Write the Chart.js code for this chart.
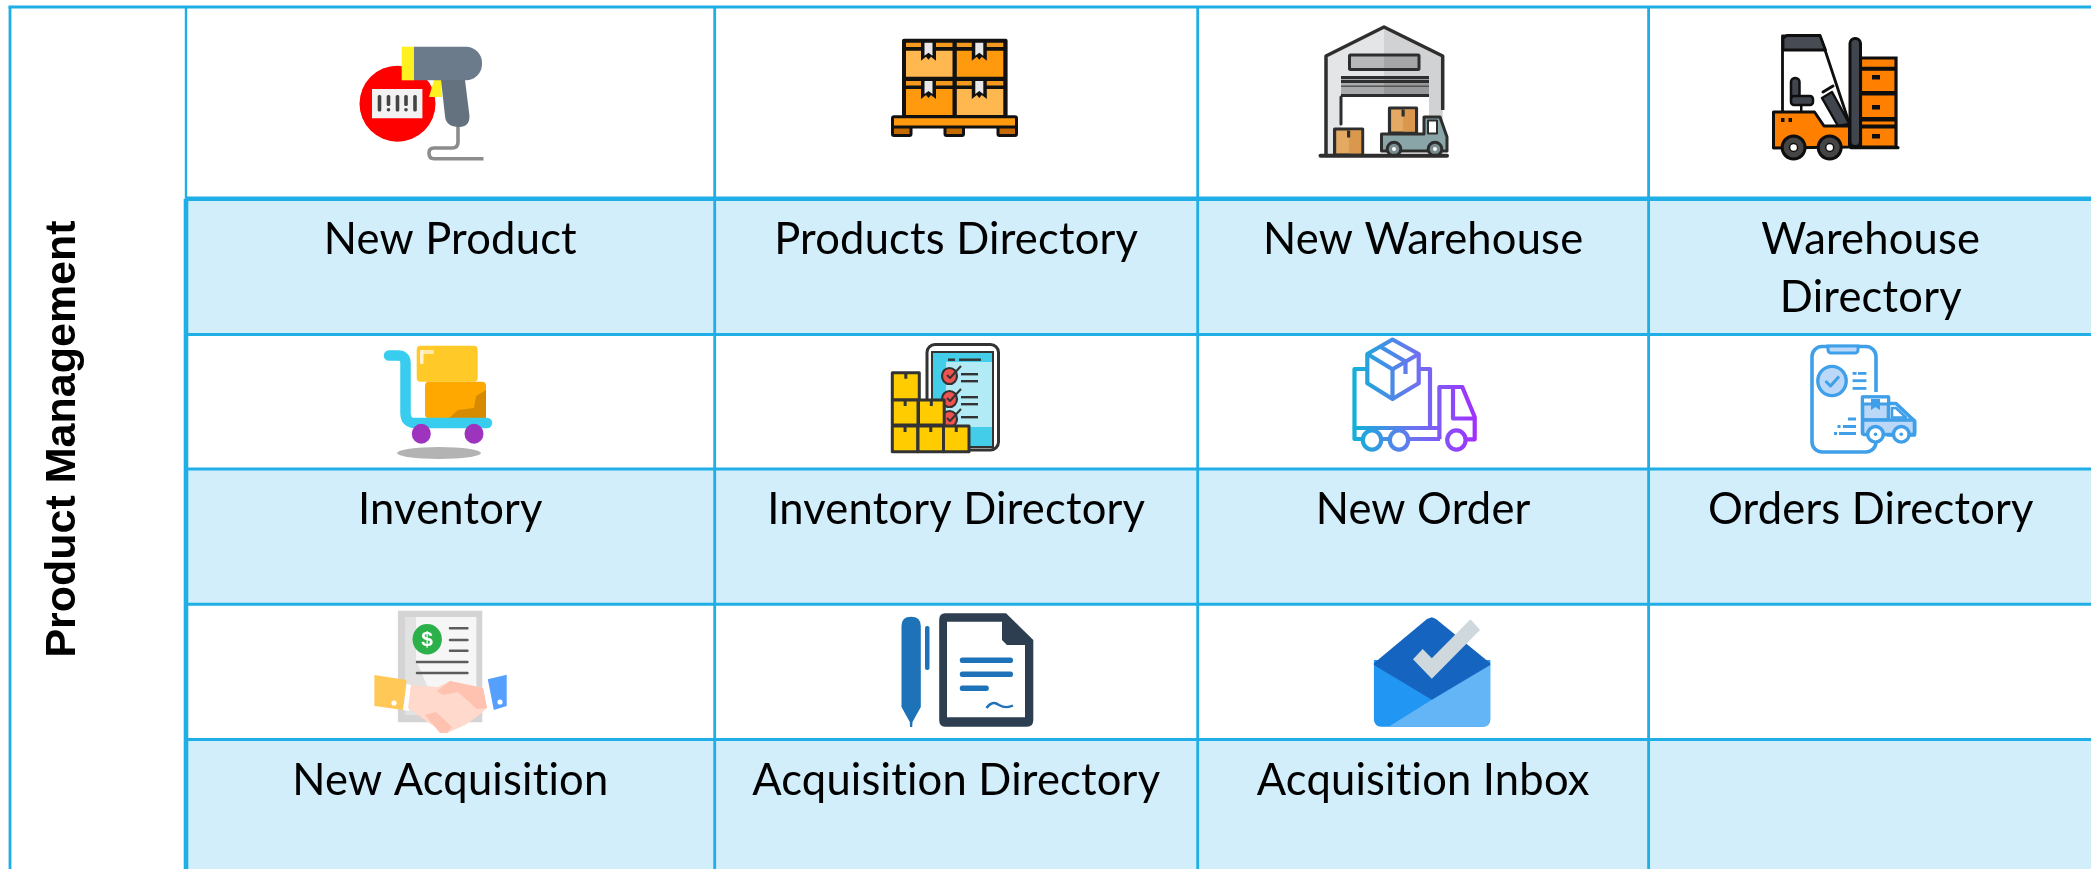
<!DOCTYPE html>
<html>
<head>
<meta charset="utf-8">
<title>Product Management</title>
<script src="https://cdn.jsdelivr.net/npm/chart.js@4"></script>
<style>
  html,body{margin:0;padding:0;background:#fff;overflow:hidden}
  canvas{display:block}
</style>
</head>
<body>
<canvas id="menuChart" width="2091" height="869"></canvas>
<script>
// table data
const groupTitle = 'Product Management';
const columnEdges = [10, 186, 714.7, 1197.7, 1648.6, 2093];
const rowEdges = [7, 198.7, 334.4, 468.9, 604.3, 739.4, 875];
const labelsRow1 = ['New Product', 'Products Directory', 'New Warehouse', 'Warehouse\nDirectory'];
const labelsRow2 = ['Inventory', 'Inventory Directory', 'New Order', 'Orders Directory'];
const labelsRow3 = ['New Acquisition', 'Acquisition Directory', 'Acquisition Inbox', ''];

const LINE = '#1FAEE6';
const BAND = '#D1EEFA';

// canvas helpers for the little pictures
function box(c, x, y, w, h, fill, stroke, lw, r){
  c.beginPath();
  c.roundRect(x, y, w, h, r || 0);
  if(fill){ c.fillStyle = fill; c.fill(); }
  if(stroke){ c.strokeStyle = stroke; c.lineWidth = lw || 1; c.stroke(); }
}
function poly(c, pts, fill, stroke, lw, open){
  c.beginPath();
  pts.forEach((p, i) => i ? c.lineTo(p[0], p[1]) : c.moveTo(p[0], p[1]));
  if(!open) c.closePath();
  if(fill){ c.fillStyle = fill; c.fill(); }
  if(stroke){ c.strokeStyle = stroke; c.lineWidth = lw || 1; c.lineJoin = 'round'; c.stroke(); }
}
function ell(c, x, y, rx, ry, fill, stroke, lw){
  c.beginPath();
  c.ellipse(x, y, rx, ry, 0, 0, Math.PI * 2);
  if(fill){ c.fillStyle = fill; c.fill(); }
  if(stroke){ c.strokeStyle = stroke; c.lineWidth = lw || 1; c.stroke(); }
}

function drawScanner(c){
  ell(c, 397.5, 103.7, 38, 38, '#FF0000');
  box(c, 372, 89, 50.4, 29.3, '#F2F2F2');
  [379.5, 397.5, 415].forEach(x => box(c, x - 1.8, 95, 3.6, 16.5, '#444', null, 0, 1.5));
  [388.5, 406].forEach(x => { box(c, x - 1.8, 95, 3.6, 11, '#444', null, 0, 1.5); ell(c, x, 109.8, 1.8, 1.8, '#444'); });
  poly(c, [[434, 80], [441, 80], [442, 97], [429, 97]], '#FFF01F');
  box(c, 401.7, 46.7, 12.3, 33.6, '#FFF01F');
  c.beginPath();
  c.moveTo(458, 126); c.lineTo(458, 142); c.quadraticCurveTo(458, 148, 452, 148);
  c.lineTo(434, 148); c.quadraticCurveTo(429, 148, 429, 153); c.quadraticCurveTo(429, 158.7, 434, 158.7); c.lineTo(483.5, 158.7);
  c.strokeStyle = '#8C8C8C'; c.lineWidth = 3.6; c.stroke();
  c.beginPath();
  c.moveTo(441, 80); c.lineTo(465, 80); c.lineTo(469.5, 116); c.quadraticCurveTo(469.5, 127, 459, 127);
  c.quadraticCurveTo(446, 127, 445, 116); c.closePath();
  c.fillStyle = '#64727F'; c.fill();
  box(c, 414, 46.7, 68, 33.6, '#6C7B8B', null, 0, [0, 16, 16, 0]);
}

function crate(c, x, y, color){
  box(c, x, y + 8, 46.5, 26, color);
  box(c, x, y, 46.5, 4.4, '#F39A1E');
  poly(c, [[x + 15, y - 2], [x + 30, y - 2], [x + 30, y + 18], [x + 25, y + 14], [x + 22.5, y + 17], [x + 20, y + 14], [x + 15, y + 18]], '#111');
  poly(c, [[x + 18.5, y], [x + 26.5, y], [x + 26.5, y + 13], [x + 22.5, y + 10], [x + 18.5, y + 13]], '#E8E8E8');
}
function drawPallet(c){
  box(c, 902, 38.7, 105.6, 78, '#111', null, 0, 2);
  crate(c, 906, 42.7, '#FFB74F');
  crate(c, 956.8, 42.7, '#FF9A0F');
  crate(c, 906, 81, '#FF9A0F');
  crate(c, 956.8, 81, '#FFB74F');
  [[892.5, 126], [945, 126], [998, 126]].forEach(p => {
    box(c, p[0], p[1], 18.5, 9.5, '#C46A00', '#111', 3, 1.5);
  });
  box(c, 892.5, 116.7, 124, 10.3, '#FF9A0F', '#111', 3, 1.5);
}

function drawWarehouse(c){
  const ink = '#2E2E2E';
  poly(c, [[1325, 56], [1384, 27], [1384, 155], [1325, 155]], '#E4E5E7');
  poly(c, [[1384, 27], [1442.7, 56], [1442.7, 155], [1384, 155]], '#D1D2D4');
  poly(c, [[1326, 155], [1326, 56], [1384, 27], [1442.7, 56], [1442.7, 110]], null, ink, 3.5, true);
  box(c, 1349.5, 55, 34.5, 14.5, '#B6B8BA');
  box(c, 1384, 55, 35, 14.5, '#A4A6A8');
  box(c, 1349.5, 55, 69.5, 14.5, null, ink, 3, 1);
  box(c, 1341, 76, 88, 80, '#fff');
  box(c, 1341, 76, 43, 20, '#A9ABAD');
  box(c, 1384, 76, 45, 20, '#98999B');
  box(c, 1341, 80, 88, 3, ink);
  box(c, 1341, 85.5, 88, 1.5, '#555');
  box(c, 1341, 76, 88, 3, ink);
  box(c, 1341, 94, 88, 3, ink);
  poly(c, [[1341, 97], [1341, 124]], null, ink, 3);
  // truck
  box(c, 1389.5, 108, 27, 25, '#E4A963', ink, 3.2);
  box(c, 1403, 109.5, 12, 22, '#D9984E');
  box(c, 1401.5, 109.5, 3.2, 7, ink);
  poly(c, [[1381.5, 134], [1424, 134], [1424, 117], [1440, 117], [1447, 137], [1447, 151], [1381.5, 151]], '#8AA5A8', ink, 3);
  box(c, 1428, 120.5, 9, 13, '#fff', ink, 2);
  [1394, 1435].forEach(x => { ell(c, x, 149, 6.8, 6.8, '#7A8F92', ink, 3); ell(c, x, 149, 2, 2, '#fff'); });
  // floor box
  box(c, 1334.6, 129, 28, 26, '#E4A963', ink, 3.2);
  box(c, 1349, 130.5, 12.3, 23, '#D9984E');
  box(c, 1347, 130.5, 3.2, 7, ink);
  box(c, 1318.5, 153.8, 130.5, 4, ink, null, 0, 2);
}

function drawForklift(c){
  const ink = '#0E0E0E', body = '#FF8000';
  box(c, 1860.5, 58, 35.5, 89, body, ink, 3.2);
  box(c, 1860.5, 66.7, 35.5, 4, ink);
  box(c, 1860.5, 91, 35.5, 4.5, ink);
  box(c, 1860.5, 117, 35.5, 4.5, ink);
  box(c, 1860.5, 124.5, 35.5, 4, ink);
  [75, 105, 134].forEach(y => box(c, 1872, y, 8, 4.5, ink));
  box(c, 1850, 38.5, 10.5, 108, '#41464E', ink, 3, 5);
  poly(c, [[1782.5, 112], [1782.5, 36], [1820, 36], [1825, 50], [1849.5, 124]], null, ink, 2.8, true);
  poly(c, [[1783, 50], [1783, 38], [1787, 35.5], [1820, 35.5], [1825.5, 50]], '#474C54', ink, 2.8);
  box(c, 1791, 78, 8.5, 24, '#41464E', ink, 2.5, 4);
  box(c, 1791, 96, 22, 9, '#41464E', ink, 2.5, 3);
  box(c, 1800, 105, 2.5, 7, ink);
  poly(c, [[1822, 98], [1832, 92], [1849.5, 124], [1838, 126]], '#41464E', ink, 2.5);
  poly(c, [[1823, 92], [1833, 86]], null, ink, 3);
  poly(c, [[1773.5, 112], [1814.5, 112], [1824, 126], [1849.5, 126], [1849.5, 147], [1773.5, 148]], body, ink, 3);
  box(c, 1781, 118, 3.5, 4, ink);
  box(c, 1788.5, 118, 3.5, 4, ink);
  box(c, 1849.5, 146, 50, 3.2, ink, null, 0, 1.5);
  [1793.6, 1829.7].forEach(x => {
    ell(c, x, 147.5, 11.5, 11.5, '#454545', ink, 3);
    ell(c, x, 147.5, 4, 4, '#fff', ink, 1.5);
  });
}

function drawTrolley(c){
  ell(c, 439, 453, 42, 6, '#B3B3B3');
  box(c, 416.7, 345.7, 61, 36, '#FFCA28', null, 0, 4);
  box(c, 420, 350, 14, 4, '#FFE9A8', null, 0, 1);
  box(c, 420, 350, 3.5, 14, '#FFF3CC', null, 0, 1);
  box(c, 425, 381.7, 61, 36.5, '#FFA800', null, 0, 4);
  poly(c, [[449, 418], [486, 418], [486, 390], [476, 396], [474, 408], [458, 410]], '#D68A00');
  c.beginPath();
  c.moveTo(389, 355.5); c.lineTo(398, 355.5); c.quadraticCurveTo(405.5, 355.5, 405.5, 363);
  c.lineTo(405.5, 413); c.quadraticCurveTo(405.5, 423, 415, 423); c.lineTo(487, 423);
  c.strokeStyle = '#38CDEE'; c.lineWidth = 10.5; c.lineCap = 'round'; c.stroke(); c.lineCap = 'butt';
  ell(c, 421.3, 433.7, 9.5, 10, '#9E34BE');
  ell(c, 474, 433.7, 9.5, 10, '#9E34BE');
}

function drawInventoryDoc(c){
  const ink = '#333';
  box(c, 927, 344.5, 71.5, 105.5, '#fff', ink, 3, 8);
  box(c, 932, 352, 61, 95, '#44CDE8', ink, 2);
  box(c, 946, 362, 46, 65, '#B2EAF6');
  [[376, 380], [399, 403], [419, 421]].forEach((p, i) => {
    ell(c, 949.5, p[0] - 0, 7.5, 8, '#EF5350', ink, 2.2);
    poly(c, [[947, p[0] - 1], [950, p[0] + 2], [961, p[0] - 10]], null, ink, 2, true);
    box(c, 961, p[0] - 3, 17, 2.4, ink);
    if(i < 2) box(c, 961, p[0] + 4, 17, 2.4, ink);
  });
  box(c, 948, 358.5, 7, 2.4, ink);
  box(c, 959, 358.5, 22, 2.4, ink);
  const boxes = [[892.3, 372.7, 27, 27.3], [892.3, 400, 25.7, 25], [918.5, 400, 25.7, 25], [892.3, 426, 25.5, 25.7], [918, 426, 25.5, 25.7], [943.5, 426, 25.5, 25.7]];
  boxes.forEach(b => {
    box(c, b[0], b[1], b[2], b[3], '#FFCC00', ink, 3);
    box(c, b[0] + b[2] / 2 - 1.5, b[1] + 1, 3, 5, ink);
  });
}

function drawGradientTruck(c){
  const g = c.createLinearGradient(1354, 0, 1475, 0);
  g.addColorStop(0, '#12B0D8');
  g.addColorStop(0.5, '#6C73F0');
  g.addColorStop(1, '#A030FF');
  const lw = 4.2;
  poly(c, [[1354.5, 369], [1430, 369], [1430, 428], [1354.5, 428]], null, g, lw);
  poly(c, [[1354.5, 428], [1354.5, 439], [1440, 439]], null, g, lw, true);
  poly(c, [[1439.4, 439.3], [1439.4, 387], [1462.3, 387], [1474.7, 417], [1474.7, 439.3], [1466, 439.3]], null, g, lw, true);
  poly(c, [[1453, 389], [1453, 418.5], [1474, 418.5]], null, g, lw, true);
  poly(c, [[1354.5, 428], [1440, 428]], null, g, lw, true);
  poly(c, [[1392.5, 339.5], [1418.7, 354], [1418.7, 383.3], [1392.5, 399], [1367.3, 383.3], [1367.3, 354]], '#fff', g, lw);
  poly(c, [[1367.3, 354], [1392.5, 369.3], [1418.7, 354]], null, g, lw, true);
  poly(c, [[1392.5, 369.3], [1392.5, 399]], null, g, lw, true);
  poly(c, [[1380, 346.5], [1405.5, 361.5], [1405.5, 374]], null, g, lw, true);
  [1372, 1399, 1456.4].forEach(x => ell(c, x, 440, 9.2, 9.6, '#fff', g, lw));
}

function drawPhoneTruck(c){
  const blue = '#3F9FE8', pale = '#BBD8F8';
  box(c, 1812, 346.5, 64, 105.5, '#fff', blue, 3.6, 10);
  box(c, 1828, 346, 30, 7, pale, blue, 3, [0, 0, 3, 3]);
  ell(c, 1832, 381, 14.2, 14.6, pale, blue, 3.4);
  poly(c, [[1825.5, 381], [1830.5, 386], [1839, 376.5]], null, blue, 3, true);
  box(c, 1852.6, 372, 4, 2.8, blue); box(c, 1858, 372, 8.4, 2.8, blue);
  box(c, 1852.6, 379.3, 13.8, 2.8, blue);
  box(c, 1852.6, 387, 13.8, 2.8, blue);
  box(c, 1856, 392, 30, 45, '#fff');
  poly(c, [[1888, 403.5], [1896, 403.5], [1914.5, 421], [1914.5, 435], [1888, 435]], '#fff', blue, 3.6);
  poly(c, [[1892, 408], [1896, 408], [1906, 417.5], [1892, 417.5]], '#fff', blue, 2.6);
  box(c, 1862.5, 397, 26, 23, pale, blue, 3.6);
  box(c, 1862.5, 397, 26, 7, '#fff', blue, 3);
  poly(c, [[1871, 399], [1880, 399], [1880, 410], [1875.5, 407], [1871, 410]], blue);
  box(c, 1862.5, 420, 52, 14.5, pale, blue, 3.6, 2);
  [1875.5, 1901.3].forEach(x => { ell(c, x, 434.3, 7.8, 7.8, '#fff', blue, 3.4); ell(c, x, 434.3, 1.8, 1.8, blue); });
  box(c, 1848, 417.5, 8, 3, blue);
  box(c, 1837.5, 425, 3, 3, blue); box(c, 1843, 425, 13, 3, blue);
  box(c, 1834, 432, 3, 3, blue); box(c, 1839, 432, 17, 3, blue);
}

function drawHandshake(c){
  box(c, 397.9, 610.7, 84.4, 111.6, '#D4D4D4');
  poly(c, [[405, 617], [476.4, 617], [476.4, 715], [405, 715]], '#F7F6F7');
  poly(c, [[405, 617], [416, 617], [416, 660], [440, 715], [405, 715]], '#E2E2E2');
  ell(c, 427.2, 639.3, 14.7, 15.3, '#2CB04A');
  c.fillStyle = '#fff'; c.font = 'bold 21px "Liberation Sans"'; c.textAlign = 'center'; c.textBaseline = 'middle';
  c.fillText('$', 427.2, 640);
  [628.3, 640, 650.7].forEach(y => box(c, 448.8, y - 1.2, 19.8, 2.4, '#5C5C5C', null, 0, 1));
  [662, 673].forEach(y => box(c, 415.8, y - 1.2, 52.8, 2.4, '#5C5C5C', null, 0, 1));
  poly(c, [[374.4, 675], [406.6, 680], [403, 710], [374.4, 706]], '#FFC857');
  poly(c, [[406.6, 684], [412, 685], [409, 711], [403, 710]], '#fff');
  poly(c, [[487.8, 679.3], [506.7, 674.7], [506.7, 706], [493.8, 710]], '#559FFF');
  ell(c, 394, 703, 2.6, 2.6, '#fff');
  ell(c, 500, 702, 2.6, 2.6, '#fff');
  poly(c, [[411, 685], [438, 687], [450, 681], [483, 688], [487, 708], [478, 716], [465, 725], [447, 733], [432, 725], [408, 708]], '#FFD9CB');
  poly(c, [[437, 691], [450, 681], [483, 688], [487, 708], [477, 709], [458, 692], [443, 695]], '#FFC1B0');
  poly(c, [[425, 715], [440, 733], [447, 733], [452, 727], [436, 712]], '#FFC1B0');
}

function drawPenDoc(c){
  const blue = '#1D72B8', navy = '#2C3E50';
  c.beginPath();
  c.moveTo(901.5, 626); c.quadraticCurveTo(901.5, 616.7, 911, 616.7); c.quadraticCurveTo(920.8, 616.7, 920.8, 626);
  c.lineTo(920.8, 707); c.lineTo(912.5, 722); c.lineTo(912.2, 727); c.lineTo(910, 727); c.lineTo(909.8, 722); c.lineTo(901.5, 707); c.closePath();
  c.fillStyle = blue; c.fill();
  box(c, 925, 626, 4.5, 44, blue, null, 0, 2);
  c.beginPath();
  c.moveTo(945, 613.3); c.lineTo(1006, 613.3); c.lineTo(1033.3, 640); c.lineTo(1033.3, 720);
  c.quadraticCurveTo(1033.3, 726.7, 1027, 726.7); c.lineTo(945, 726.7); c.quadraticCurveTo(939.2, 726.7, 939.2, 720);
  c.lineTo(939.2, 620); c.quadraticCurveTo(939.2, 613.3, 945, 613.3); c.closePath();
  c.fillStyle = navy; c.fill();
  poly(c, [[947, 621.7], [1002, 621.7], [1002, 640], [1007, 645], [1025, 645], [1025, 717.3], [947, 717.3]], '#fff');
  box(c, 959.8, 657.5, 53.2, 5.6, blue, null, 0, 2.5);
  box(c, 959.8, 671.5, 53.2, 5.6, blue, null, 0, 2.5);
  box(c, 959.8, 685.5, 29, 5.6, blue, null, 0, 2.5);
  c.beginPath();
  c.moveTo(986.5, 708); c.quadraticCurveTo(992, 700, 999, 705); c.quadraticCurveTo(1006, 709, 1013, 705.5);
  c.strokeStyle = blue; c.lineWidth = 2.4; c.stroke();
}

function drawInbox(c){
  box(c, 1373.9, 660, 116.4, 66.7, '#2196F3', null, 0, [0, 0, 7, 7]);
  c.save();
  c.beginPath(); c.roundRect(1373.9, 660, 116.4, 66.7, [0, 0, 7, 7]); c.clip();
  poly(c, [[1490.3, 663.3], [1490.3, 726.7], [1388.6, 726.7]], '#64B5F6');
  c.restore();
  poly(c, [[1373.9, 663.3], [1427, 619], [1431.8, 617.3], [1436, 619], [1490.3, 663.3], [1490.3, 665], [1431.8, 699.7], [1373.9, 665]], '#1565C0');
  poly(c, [[1413, 659.3], [1422.7, 649], [1431.8, 658.3], [1470.5, 619.3], [1480, 630], [1431.8, 678.7]], '#CFD8DC');
}

const iconRows = [
  [drawScanner, drawPallet, drawWarehouse, drawForklift],
  [drawTrolley, drawInventoryDoc, drawGradientTruck, drawPhoneTruck],
  [drawHandshake, drawPenDoc, drawInbox, null]
];

// line dataset helper: one straight rule between two points
function rule(x0, y0, x1, y1, width){
  return { data: [{x: x0, y: y0}, {x: x1, y: y1}], borderColor: LINE, borderWidth: width, pointRadius: 0, fill: false, order: 0, borderCapStyle: 'butt' };
}
// light blue row under the icons
function band(top, bottom){
  return { data: [{x: columnEdges[1], y: bottom}, {x: columnEdges[5], y: bottom}], borderWidth: 0, pointRadius: 0, fill: {value: top}, backgroundColor: BAND, order: 5 };
}

const datasets = [];
[1, 3, 5].forEach(i => datasets.push(band(rowEdges[i], rowEdges[i + 1])));
// horizontal rules
datasets.push(rule(columnEdges[0] - 1.5, rowEdges[0], columnEdges[5], rowEdges[0], 2.8));
[1, 2, 3, 4, 5].forEach(i => {
  datasets.push(rule(columnEdges[1], rowEdges[i], columnEdges[5], rowEdges[i], i === 1 ? 4.6 : 3));
});
// vertical rules
datasets.push(rule(columnEdges[0], rowEdges[0], columnEdges[0], rowEdges[6], 2.8));
datasets.push(rule(columnEdges[1], rowEdges[0], columnEdges[1], rowEdges[1], 2.4));
datasets.push(rule(columnEdges[1], rowEdges[1], columnEdges[1], rowEdges[6], 4.6));
[2, 3, 4].forEach(i => datasets.push(rule(columnEdges[i], rowEdges[0], columnEdges[i], rowEdges[6], 2.8)));

const tablePlugin = {
  id: 'tableText',
  afterDatasetsDraw(chart){
    const c = chart.ctx, xs = chart.scales.x, ys = chart.scales.y;
    // pictures are in axis units
    iconRows.forEach(row => row.forEach(draw => {
      if(!draw) return;
      c.save();
      c.translate(xs.getPixelForValue(0), ys.getPixelForValue(0));
      draw(c);
      c.restore();
    }));
    // cell labels
    c.save();
    c.fillStyle = '#000';
    c.textAlign = 'center';
    c.textBaseline = 'alphabetic';
    c.font = '43.5px Lato';
    c.letterSpacing = '0.2px'; // also stops the ti ligature
    [labelsRow1, labelsRow2, labelsRow3].forEach((labels, r) => {
      const top = rowEdges[2 * r + 1];
      labels.forEach((text, i) => {
        const cx = xs.getPixelForValue((columnEdges[i + 1] + columnEdges[i + 2]) / 2);
        text.split('\n').forEach((line, k) => {
          c.fillText(line, cx, ys.getPixelForValue(top + 55.5 + k * 57.6));
        });
      });
    });
    c.restore();
    // rotated group title
    c.save();
    c.translate(xs.getPixelForValue(74.7), ys.getPixelForValue(439));
    c.rotate(-Math.PI / 2);
    c.fillStyle = '#000';
    c.textAlign = 'center';
    c.textBaseline = 'alphabetic';
    c.font = 'bold 43px "Liberation Sans"';
    c.fillText(groupTitle, 0, 0);
    c.restore();
  }
};

new Chart(document.getElementById('menuChart').getContext('2d'), {
  type: 'line',
  data: { datasets },
  options: {
    responsive: false,
    animation: false,
    layout: { padding: 0 },
    scales: {
      x: { type: 'linear', display: false, min: 0, max: 2091 },
      y: { type: 'linear', display: false, min: 0, max: 869, reverse: true }
    },
    plugins: { legend: { display: false }, tooltip: { enabled: false } }
  },
  plugins: [tablePlugin]
});
</script>
</body>
</html>
